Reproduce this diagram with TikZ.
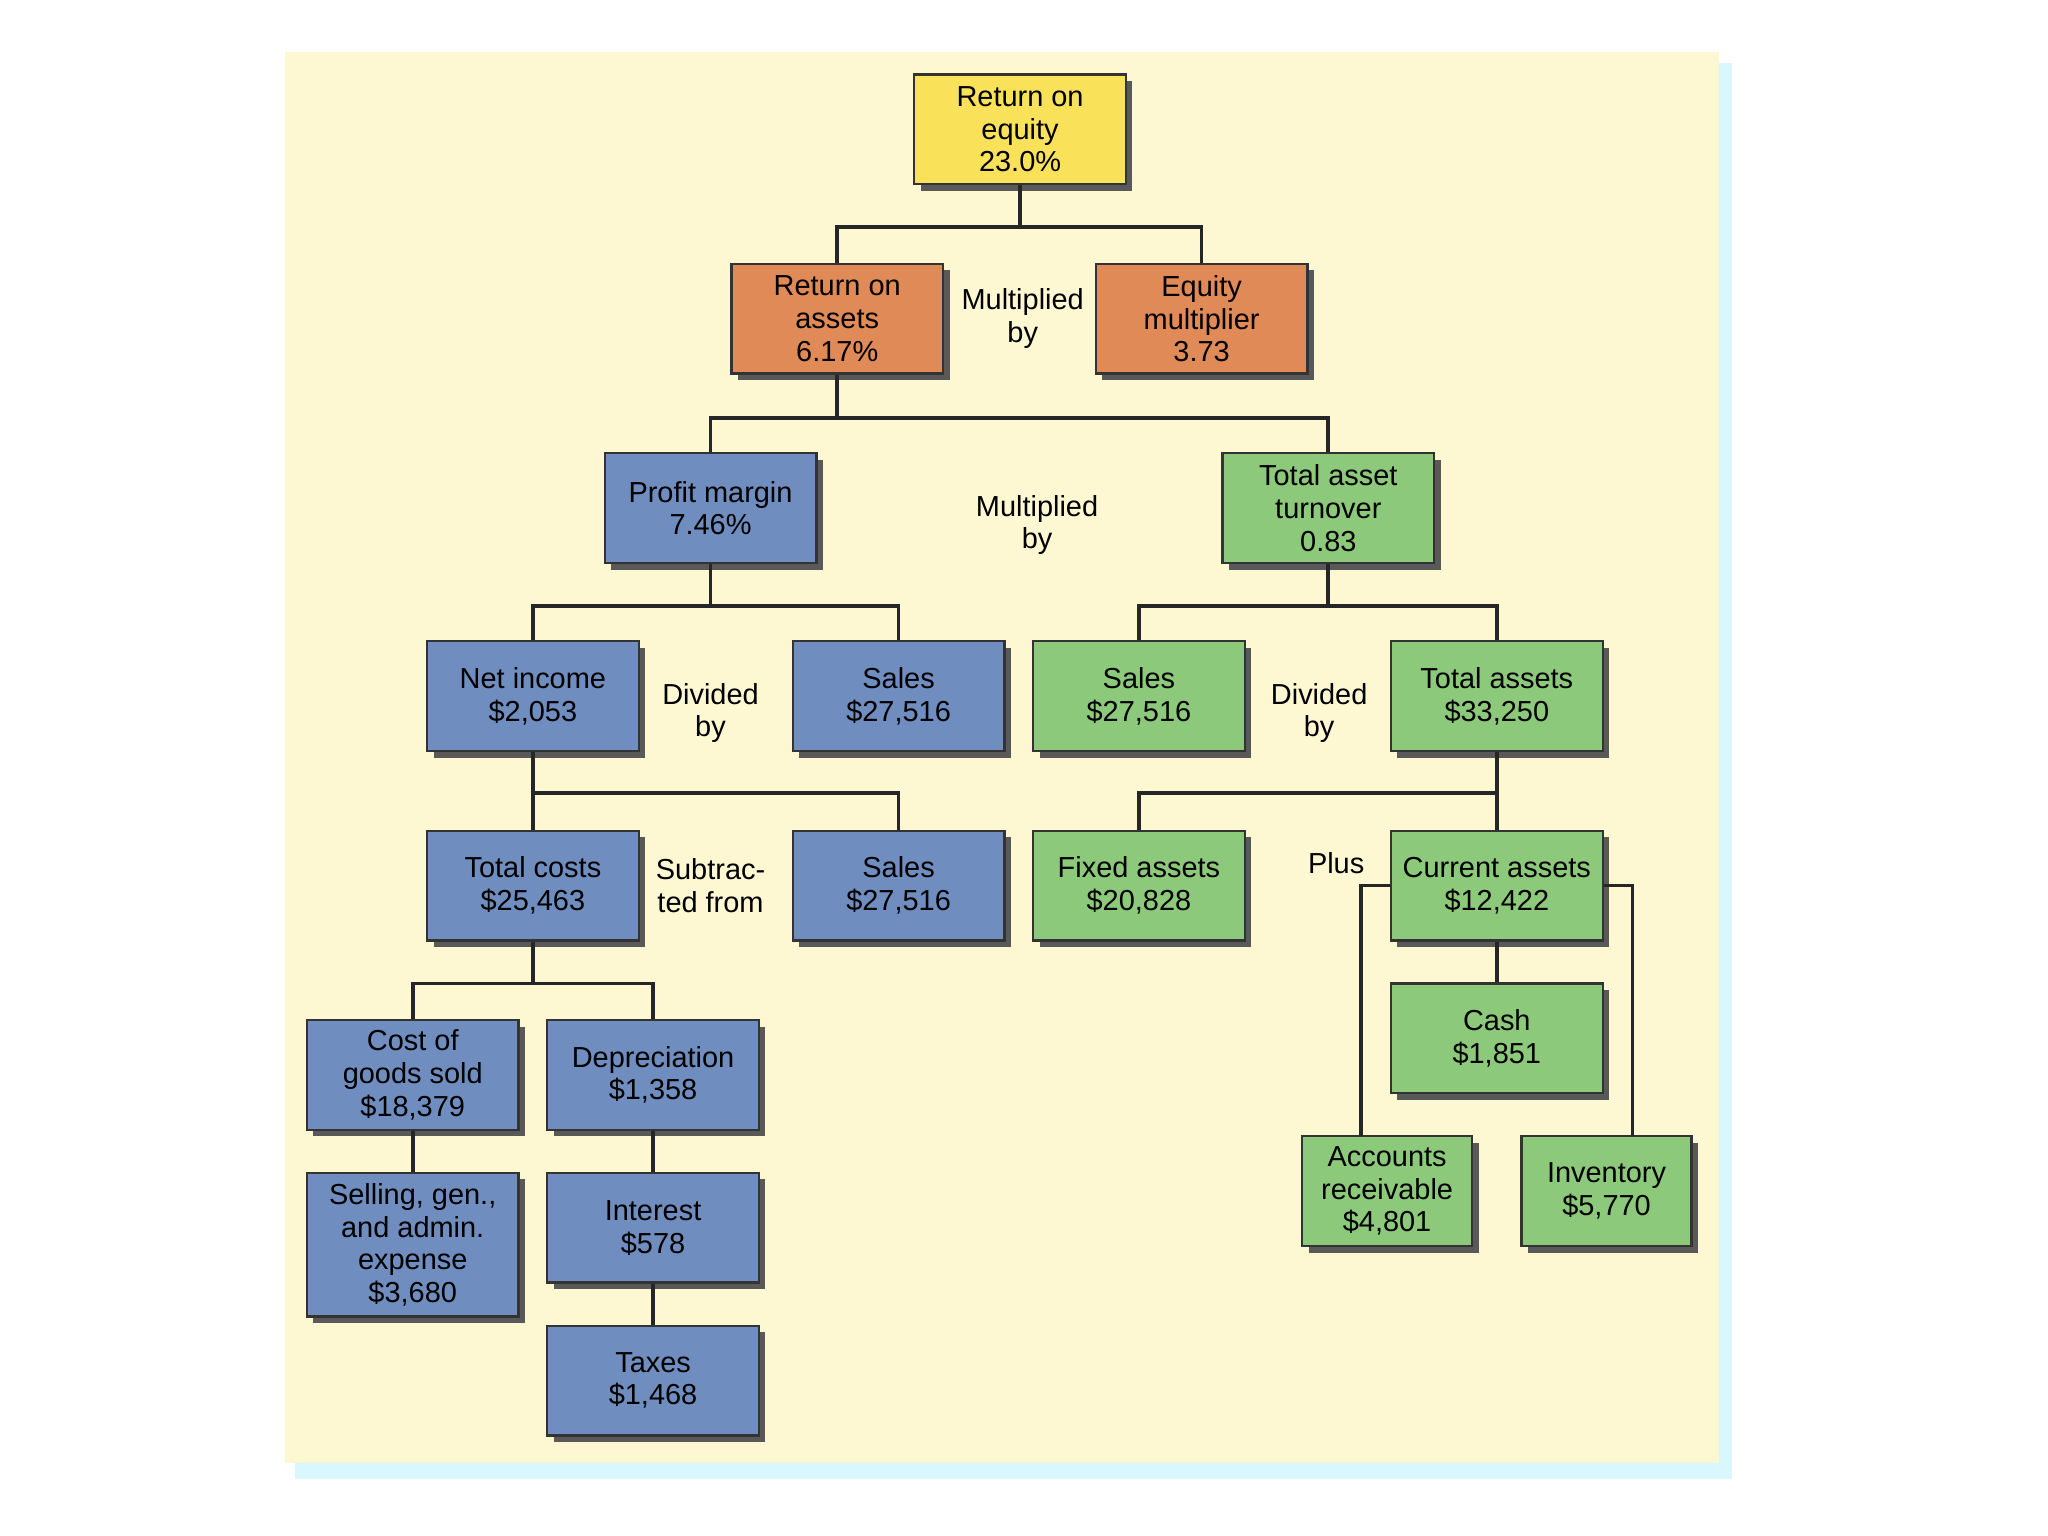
\documentclass[tikz,border=0pt]{standalone}
\usepackage{fontspec}
\setmainfont{Liberation Sans}
\usetikzlibrary{shadows}
\definecolor{bg}{HTML}{FDF8D2}
\definecolor{cy}{HTML}{F9E25A}
\definecolor{co}{HTML}{E08A57}
\definecolor{cb}{HTML}{6F8DBE}
\definecolor{cg}{HTML}{8CC97A}
\begin{document}
\begin{tikzpicture}[x=0.01cm,y=-0.01cm,
  box/.style={draw=black!80,line width=0.5pt,minimum width=1.62cm,minimum height=0.84cm,align=center,inner sep=1pt,
    font=\fontsize{6.3}{7.1}\selectfont,drop shadow={shadow xshift=0.05cm,shadow yshift=-0.05cm,fill=black!65,opacity=1}},
  lab/.style={align=center,font=\fontsize{6.3}{7.1}\selectfont},
  ln/.style={line width=0.8pt,black!85}]
\useasboundingbox (0,0) rectangle (1568,1176);
\fill[blue!20!cyan!15] (226,48) rectangle (1326,1132);
\fill[bg] (218,40) rectangle (1316,1120);
\node[box,fill=cy] (roe) at (781,99) {Return on\\equity\\23.0\%};
\node[box,fill=co] (roa) at (641,244) {Return on\\assets\\6.17\%};
\node[box,fill=co] (em) at (920,244) {Equity\\multiplier\\3.73};
\node[box,fill=cb] (pm) at (544,389) {Profit margin\\7.46\%};
\node[box,fill=cg] (tat) at (1017,389) {Total asset\\turnover\\0.83};
\node[box,fill=cb] (ni) at (408,533) {Net income\\\$2,053};
\node[box,fill=cb] (s1) at (688,533) {Sales\\\$27,516};
\node[box,fill=cg] (s2) at (872,533) {Sales\\\$27,516};
\node[box,fill=cg] (ta) at (1146,533) {Total assets\\\$33,250};
\node[box,fill=cb] (tc) at (408,678) {Total costs\\\$25,463};
\node[box,fill=cb] (s3) at (688,678) {Sales\\\$27,516};
\node[box,fill=cg] (fa) at (872,678) {Fixed assets\\\$20,828};
\node[box,fill=cg] (ca) at (1146,678) {Current assets\\\$12,422};
\node[box,fill=cb] (cogs) at (316,823) {Cost of\\goods sold\\\$18,379};
\node[box,fill=cb] (dep) at (500,823) {Depreciation\\\$1,358};
\node[box,fill=cb,minimum height=1.1cm] (sga) at (316,953) {Selling, gen.,\\and admin.\\expense\\\$3,680};
\node[box,fill=cb] (int) at (500,940) {Interest\\\$578};
\node[box,fill=cb] (tax) at (500,1057) {Taxes\\\$1,468};
\node[box,fill=cg] (cash) at (1146,795) {Cash\\\$1,851};
\node[box,fill=cg,minimum width=1.3cm] (ar) at (1062,912) {Accounts\\receivable\\\$4,801};
\node[box,fill=cg,minimum width=1.3cm] (inv) at (1230,912) {Inventory\\\$5,770};
\node[lab] (l1) at (783,244) {Multiplied\\by};
\node[lab] (l2) at (794,402) {Multiplied\\by};
\node[lab] (l3) at (544,546) {Divided\\by};
\node[lab] (l4) at (1010,546) {Divided\\by};
\node[lab] (l5) at (544,678) {Subtrac-\\ted from};
\node[lab] (l6) at (1023,661) {Plus};
\draw[ln] (roe.south) -- ++(0,32) -| (roa.north);
\draw[ln] (roe.south) ++(0,32) -| (em.north);
\draw[ln] (roa.south) -- ++(0,33) -| (pm.north);
\draw[ln] (roa.south) ++(0,33) -| (tat.north);
\draw[ln] (pm.south) -- ++(0,32) -| (ni.north);
\draw[ln] (pm.south) ++(0,32) -| (s1.north);
\draw[ln] (tat.south) -- ++(0,32) -| (s2.north);
\draw[ln] (tat.south) ++(0,32) -| (ta.north);
\draw[ln] (ni.south) -- (tc.north);
\draw[ln] (ni.south) ++(0,31) -| (s3.north);
\draw[ln] (ta.south) -- ++(0,31) -| (fa.north);
\draw[ln] (ta.south) -- (ca.north);
\draw[ln] (tc.south) -- ++(0,32) -| (cogs.north);
\draw[ln] (tc.south) ++(0,32) -| (dep.north);
\draw[ln] (cogs) -- (sga);
\draw[ln] (dep) -- (int);
\draw[ln] (int) -- (tax);
\draw[ln] (ca) -- (cash);
\draw[ln] (ca.west) -- (1042,678) -- (1042,870);
\draw[ln] (ca.east) -- (1250,678) -- (1250,870);
\end{tikzpicture}
\end{document}
